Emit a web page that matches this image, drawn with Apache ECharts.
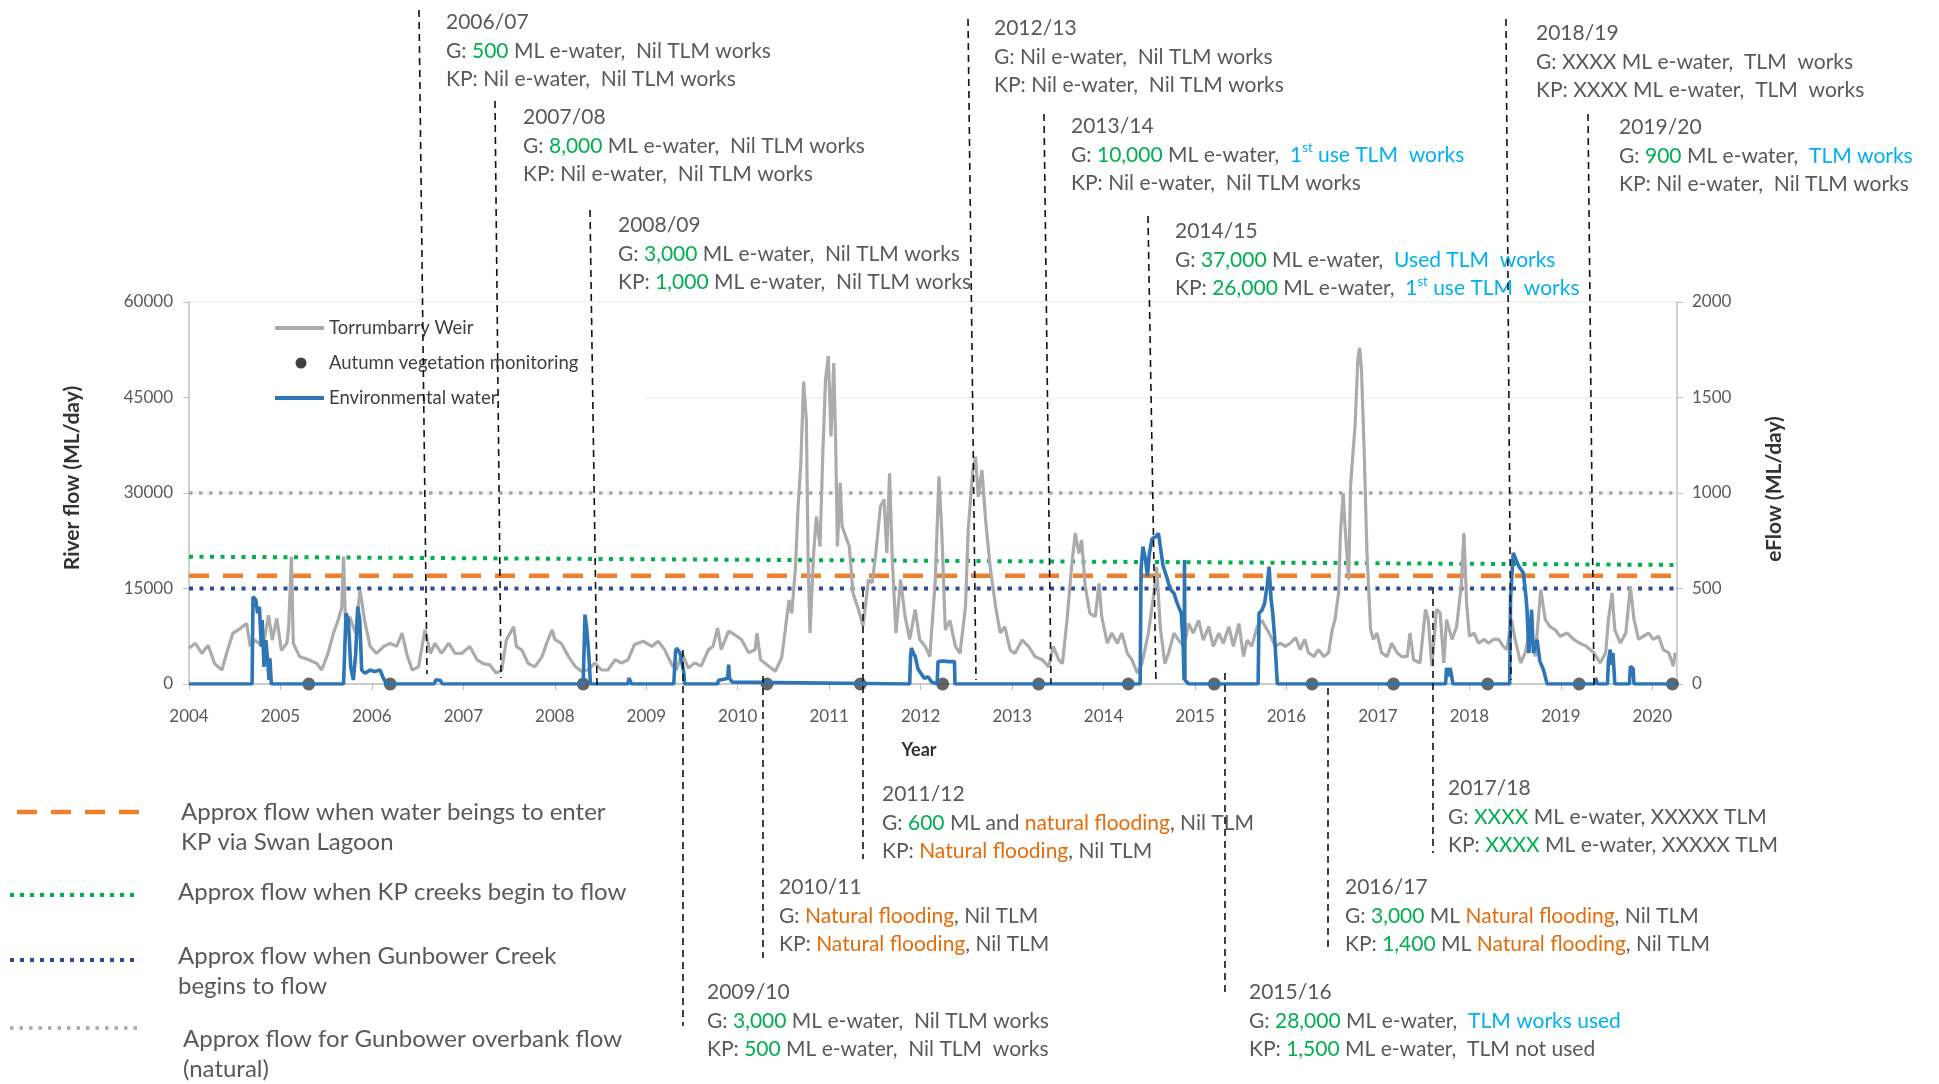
<!DOCTYPE html>
<html>
<head>
<meta charset="utf-8">
<script src="https://cdn.jsdelivr.net/npm/echarts@6/dist/echarts.min.js"></script>
<style>
  html, body { margin: 0; padding: 0; background: #fff; }
  #chart { width: 1939px; height: 1084px; }
</style>
</head>
<body>
<div id="chart"></div>
<script>
// ---- data ----
// Torrumbarry Weir river flow (ML/day), [year, flow]
const weirFlow = [
  [2004.00,5600],[2004.01,5900],[2004.07,6400],[2004.14,4800],[2004.21,6100],[2004.28,3200],[2004.36,2200],[2004.41,4800],[2004.48,8000],[2004.56,8700],[2004.63,9500],[2004.67,5900],[2004.72,6900],[2004.81,5900],[2004.87,10800],[2004.91,6900],[2004.96,10300],
  [2005.01,5300],[2005.07,6400],[2005.09,9000],[2005.12,20000],[2005.14,6400],[2005.21,4300],[2005.31,3800],[2005.40,3200],[2005.45,2200],[2005.52,4800],[2005.58,8000],[2005.63,10000],[2005.67,12000],[2005.69,20000],[2005.71,10000],[2005.76,10500],[2005.82,8000],[2005.87,14800],[2005.92,10000],[2005.98,5900],
  [2006.05,4800],[2006.13,5900],[2006.20,6400],[2006.27,5900],[2006.33,8000],[2006.38,4800],[2006.44,2200],[2006.51,2700],[2006.58,8500],[2006.64,4800],[2006.69,6400],[2006.76,4800],[2006.84,6400],[2006.91,4800],[2006.98,4800],
  [2007.07,5900],[2007.15,3800],[2007.22,3200],[2007.29,3000],[2007.36,1700],[2007.42,2200],[2007.47,6900],[2007.55,9000],[2007.58,5900],[2007.64,5300],[2007.71,3200],[2007.78,2700],[2007.86,4300],[2007.91,6400],[2007.97,8500],
  [2008.00,7000],[2008.07,6400],[2008.15,4300],[2008.22,2800],[2008.29,2000],[2008.36,2200],[2008.44,3300],[2008.51,2200],[2008.58,2200],[2008.66,3800],[2008.73,3300],[2008.80,3800],[2008.87,6200],[2008.97,6700],
  [2009.06,5900],[2009.13,6700],[2009.20,5400],[2009.28,3000],[2009.33,2200],[2009.39,4900],[2009.46,2500],[2009.53,3300],[2009.60,2800],[2009.68,5400],[2009.73,5900],[2009.78,8800],[2009.82,5400],[2009.90,8300],[2009.97,7700],
  [2010.04,7000],[2010.12,4900],[2010.19,5400],[2010.21,8000],[2010.25,3800],[2010.34,2800],[2010.41,2000],[2010.48,4100],[2010.52,8500],[2010.56,13200],[2010.59,11100],[2010.63,18000],[2010.66,27900],[2010.69,34700],[2010.72,47500],[2010.75,41500],[2010.77,19000],[2010.79,8000],[2010.83,20600],[2010.86,26300],[2010.90,21600],[2010.93,36300],[2010.96,47800],[2010.99,51500],
  [2011.02,38900],[2011.05,50400],[2011.07,38400],[2011.09,21600],[2011.12,31600],[2011.14,24800],[2011.18,23200],[2011.22,21600],[2011.26,14300],[2011.32,11700],[2011.37,9100],[2011.43,16400],[2011.47,15900],[2011.51,20600],[2011.56,27900],[2011.60,29000],[2011.63,20600],[2011.66,33100],[2011.69,19500],[2011.73,8000],[2011.78,16400],[2011.83,10600],[2011.88,7000],[2011.94,11700],[2011.99,7000],
  [2012.05,5900],[2012.10,4300],[2012.16,16300],[2012.20,32600],[2012.23,24200],[2012.27,8500],[2012.32,10000],[2012.38,5900],[2012.43,4800],[2012.49,12100],[2012.52,24200],[2012.57,33600],[2012.60,35700],[2012.63,29400],[2012.67,33600],[2012.71,25800],[2012.76,18400],[2012.82,12100],[2012.87,8000],[2012.92,9000],[2012.98,5300],
  [2013.03,4800],[2013.11,6900],[2013.18,5900],[2013.25,4300],[2013.33,3800],[2013.40,2700],[2013.45,5900],[2013.51,3800],[2013.55,3200],[2013.60,10000],[2013.65,18400],[2013.69,23700],[2013.73,20500],[2013.76,22600],[2013.80,15300],[2013.85,11100],[2013.91,10600],[2013.95,15800],[2013.98,10600],
  [2014.04,6400],[2014.09,8000],[2014.15,6400],[2014.20,8000],[2014.26,4800],[2014.31,3800],[2014.37,1700],[2014.42,3200],[2014.49,8000],[2014.55,14200],[2014.58,18400],[2014.62,9000],[2014.67,3200],[2014.71,4800],[2014.77,8000],[2014.82,6900],[2014.88,5900],[2014.93,9500],[2014.98,8000],
  [2015.04,10000],[2015.09,6900],[2015.15,9000],[2015.20,5900],[2015.26,8000],[2015.31,6400],[2015.37,9000],[2015.42,5900],[2015.48,9500],[2015.53,4300],[2015.57,6900],[2015.62,5900],[2015.68,9000],[2015.73,10000],[2015.81,8000],[2015.88,5900],[2015.93,6400],[2015.99,5900],
  [2016.04,6400],[2016.10,7300],[2016.15,5400],[2016.20,7000],[2016.24,4900],[2016.30,4300],[2016.35,5400],[2016.41,4300],[2016.46,4900],[2016.50,8500],[2016.53,10100],[2016.57,14300],[2016.59,23700],[2016.62,30000],[2016.64,24800],[2016.68,16400],[2016.70,31000],[2016.73,36800],[2016.75,40500],[2016.78,50900],[2016.80,52800],[2016.82,49400],[2016.85,36300],[2016.88,20600],[2016.92,8500],[2016.95,7000],[2016.99,8000],
  [2017.04,4900],[2017.10,4300],[2017.15,6400],[2017.21,4900],[2017.26,4300],[2017.32,4300],[2017.35,8000],[2017.39,3800],[2017.46,3300],[2017.52,11700],[2017.55,10100],[2017.59,2800],[2017.64,11700],[2017.68,11200],[2017.72,3300],[2017.75,10100],[2017.81,7000],[2017.86,9000],[2017.91,15300],[2017.94,23700],[2017.97,12700],
  [2018.00,7500],[2018.05,8000],[2018.10,6400],[2018.16,7000],[2018.21,6400],[2018.26,7000],[2018.32,7000],[2018.37,5900],[2018.41,5400],[2018.46,10100],[2018.50,7000],[2018.56,3300],[2018.61,4900],[2018.67,9000],[2018.72,4300],[2018.78,14800],[2018.83,10100],[2018.88,9000],[2018.94,8500],[2018.99,7500],
  [2019.07,8000],[2019.14,7000],[2019.21,6400],[2019.28,5900],[2019.36,4900],[2019.43,3300],[2019.49,4900],[2019.52,10100],[2019.56,14300],[2019.59,8500],[2019.65,6400],[2019.71,8000],[2019.76,15300],[2019.80,10100],[2019.85,7000],[2019.90,7500],[2019.96,8000],
  [2020.01,7000],[2020.07,7500],[2020.12,5400],[2020.18,4900],[2020.23,2800],[2020.25,4900]
];

// Environmental water delivered (eFlow, ML/day, right axis), [year, flow]
const eWater = [
  [2004.00,0],[2004.69,0],[2004.70,457],[2004.73,440],[2004.75,370],[2004.77,405],[2004.79,195],[2004.80,335],[2004.82,90],[2004.84,230],[2004.86,125],[2004.875,21],[2004.885,134],[2004.90,0],
  [2005.69,0],[2005.717,370],[2005.743,335],[2005.768,90],[2005.797,21],[2005.823,160],[2005.845,405],[2005.867,335],[2005.888,73],[2005.925,56],[2005.98,73],[2006.03,65],[2006.09,73],[2006.125,30],[2006.16,3],[2006.19,0],
  [2006.68,0],[2006.70,22],[2006.75,18],[2006.77,0],
  [2008.31,0],[2008.33,363],[2008.35,284],[2008.37,162],[2008.39,0],
  [2008.80,0],[2008.81,31],[2008.83,31],[2008.84,0],
  [2009.30,0],[2009.32,170],[2009.33,188],[2009.37,162],[2009.41,60],[2009.42,0],
  [2009.78,0],[2009.79,20],[2009.85,25],[2009.89,30],[2009.90,101],[2009.91,30],[2009.94,10],[2009.96,0],
  [2011.88,0],[2011.89,150],[2011.90,188],[2011.92,160],[2011.94,145],[2011.97,80],[2012.00,58],[2012.04,30],[2012.08,38],[2012.12,10],[2012.18,0],[2012.19,117],[2012.25,120],[2012.30,117],[2012.37,117],[2012.375,0],
  [2014.40,0],[2014.41,600],[2014.43,719],[2014.46,649],[2014.48,562],[2014.50,680],[2014.53,760],[2014.57,771],[2014.60,789],[2014.62,780],[2014.65,620],[2014.69,560],[2014.71,527],[2014.74,490],[2014.77,475],[2014.80,430],[2014.82,405],[2014.85,370],[2014.87,200],[2014.88,21],[2014.885,649],[2014.89,21],[2014.93,0],
  [2015.69,0],[2015.70,370],[2015.73,385],[2015.76,420],[2015.79,520],[2015.81,614],[2015.83,450],[2015.85,370],[2015.87,248],[2015.90,0],
  [2017.74,0],[2017.75,84],[2017.77,40],[2017.79,84],[2017.81,84],[2017.82,0],
  [2018.44,0],[2018.45,450],[2018.48,686],[2018.51,650],[2018.54,616],[2018.59,581],[2018.62,450],[2018.63,389],[2018.65,162],[2018.68,389],[2018.70,162],[2018.74,232],[2018.77,120],[2018.81,75],[2018.85,0],
  [2019.37,0],[2019.38,31],[2019.40,0],[2019.51,0],[2019.52,120],[2019.54,180],[2019.56,100],[2019.57,162],[2019.59,0],[2019.75,0],[2019.76,92],[2019.79,80],[2019.80,0],[2020.25,0]
];

// Autumn vegetation monitoring dates
const monitoringDates = [2005.31, 2006.20, 2008.31, 2010.32, 2011.34, 2012.24, 2013.29, 2014.27, 2015.21, 2016.28, 2017.17, 2018.20, 2019.20, 2020.22];

// threshold flows (ML/day)
const overbankFlow = [30000, 30000];
const kpCreeksFlow = [20000, 18700];
const swanLagoonFlow = [17000, 17000];
const gunbowerCreekFlow = [15000, 15000];

const yearMin = 2004, yearMax = 2020.27;

// ---- styling ----
const FONT = 'Lato, "Open Sans", sans-serif';
const TXT = '#595959', GREEN = '#00B050', BLUE = '#00B0F0', ORANGE = '#E46C0A';
const C_GREY = '#ABABAB', C_BLUE = '#2E75B6', C_ORANGE = '#F07F2D', C_NAVY = '#2F4A9A', C_DOTGREY = '#A6A6A6';

const chart = echarts.init(document.getElementById('chart'));

function refLine(vals, color, dash, width) {
  return {
    type: 'line', yAxisIndex: 0, symbol: 'none', silent: true,
    data: [[yearMin, vals[0]], [yearMax, vals[1]]],
    lineStyle: { color: color, width: width, type: dash, cap: 'butt' }
  };
}

// annotation text: plain text becomes {t|..}, tokens {g|..} {b|..} {o|..} {s|..}
function rich(lines) {
  return lines.map(function (ln) {
    let out = '', last = 0;
    const re = /\{(\w+)\|([^}]*)\}/g;
    let m;
    while ((m = re.exec(ln)) !== null) {
      if (m.index > last) out += '{t|' + ln.slice(last, m.index) + '}';
      out += m[0];
      last = re.lastIndex;
    }
    if (last < ln.length) out += '{t|' + ln.slice(last) + '}';
    return out;
  }).join('\n');
}

const NOTE_FS = 21, NOTE_LH = 28.5;
const richStyles = {
  t: { fill: TXT, fontSize: NOTE_FS, fontFamily: FONT, lineHeight: NOTE_LH },
  g: { fill: GREEN, fontSize: NOTE_FS, fontFamily: FONT, lineHeight: NOTE_LH },
  b: { fill: BLUE, fontSize: NOTE_FS, fontFamily: FONT, lineHeight: NOTE_LH },
  o: { fill: ORANGE, fontSize: NOTE_FS, fontFamily: FONT, lineHeight: NOTE_LH },
  s: { fill: BLUE, fontSize: 13, fontFamily: FONT, lineHeight: NOTE_LH, verticalAlign: 'top', padding: [1, 0, 0, 0] }
};

// season notes with layout (pixels)
const notes = [
  { x: 446, y: 8, line: [419, 10, 427, 674], text: ['2006/07', 'G: {g|500} ML e-water,  Nil TLM works', 'KP: Nil e-water,  Nil TLM works'] },
  { x: 523, y: 103, line: [495, 101, 501, 678], text: ['2007/08', 'G: {g|8,000} ML e-water,  Nil TLM works', 'KP: Nil e-water,  Nil TLM works'] },
  { x: 618, y: 211, line: [590, 210, 597, 686], text: ['2008/09', 'G: {g|3,000} ML e-water,  Nil TLM works', 'KP: {g|1,000} ML e-water,  Nil TLM works'] },
  { x: 994, y: 14, line: [968, 19, 976, 680], text: ['2012/13', 'G: Nil e-water,  Nil TLM works', 'KP: Nil e-water,  Nil TLM works'] },
  { x: 1071, y: 112, line: [1044, 114, 1051, 684], text: ['2013/14', 'G: {g|10,000} ML e-water,  {b|1}{s|st}{b| use TLM  works}', 'KP: Nil e-water,  Nil TLM works'] },
  { x: 1175, y: 217, line: [1148, 216, 1156, 684], text: ['2014/15', 'G: {g|37,000} ML e-water,  {b|Used TLM  works}', 'KP: {g|26,000} ML e-water,  {b|1}{s|st}{b| use TLM  works}'] },
  { x: 1536, y: 19, line: [1506, 19, 1511, 680], text: ['2018/19', 'G: XXXX ML e-water,  TLM  works', 'KP: XXXX ML e-water,  TLM  works'] },
  { x: 1619, y: 113, line: [1588, 114, 1594, 686], text: ['2019/20', 'G: {g|900} ML e-water,  {b|TLM works}', 'KP: Nil e-water,  Nil TLM works'] },
  { x: 707, y: 978, line: [683, 650, 683, 1026], text: ['2009/10', 'G: {g|3,000} ML e-water,  Nil TLM works', 'KP: {g|500} ML e-water,  Nil TLM  works'] },
  { x: 779, y: 873, line: [763, 676, 763, 958], text: ['2010/11', 'G: {o|Natural flooding}, Nil TLM', 'KP: {o|Natural flooding}, Nil TLM'] },
  { x: 882, y: 780, line: [863, 590, 863, 859], text: ['2011/12', 'G: {g|600} ML and {o|natural flooding}, Nil TLM', 'KP: {o|Natural flooding}, Nil TLM'] },
  { x: 1249, y: 978, line: [1225, 673, 1225, 995], text: ['2015/16', 'G: {g|28,000} ML e-water,  {b|TLM works used}', 'KP: {g|1,500} ML e-water,  TLM not used'] },
  { x: 1345, y: 873, line: [1328, 688, 1328, 952], text: ['2016/17', 'G: {g|3,000} ML {o|Natural flooding}, Nil TLM', 'KP: {g|1,400} ML {o|Natural flooding}, Nil TLM'] },
  { x: 1448, y: 774, line: [1433, 587, 1433, 853], text: ['2017/18', 'G: {g|XXXX} ML e-water, XXXXX TLM', 'KP: {g|XXXX} ML e-water, XXXXX TLM'] }
];

const graphics = [];
// white box behind in-plot legend
graphics.push({ type: 'rect', z: 1, silent: true, shape: { x: 191, y: 306, width: 455, height: 108 }, style: { fill: '#fff' } });
// in-plot legend
const LEG_FS = 18.5;
graphics.push({ type: 'line', z: 5, shape: { x1: 275, y1: 328, x2: 324, y2: 328 }, style: { stroke: C_GREY, lineWidth: 4 } });
graphics.push({ type: 'text', z: 5, x: 329, y: 328, style: { text: 'Torrumbarry Weir', fill: '#404040', fontSize: LEG_FS, fontFamily: FONT, verticalAlign: 'middle' } });
graphics.push({ type: 'circle', z: 5, shape: { cx: 301, cy: 363, r: 5.5 }, style: { fill: '#404040' } });
graphics.push({ type: 'text', z: 5, x: 329, y: 363, style: { text: 'Autumn vegetation monitoring', fill: '#404040', fontSize: LEG_FS, fontFamily: FONT, verticalAlign: 'middle' } });
graphics.push({ type: 'line', z: 5, shape: { x1: 275, y1: 398, x2: 324, y2: 398 }, style: { stroke: C_BLUE, lineWidth: 4 } });
graphics.push({ type: 'text', z: 5, x: 329, y: 398, style: { text: 'Environmental water', fill: '#404040', fontSize: LEG_FS, fontFamily: FONT, verticalAlign: 'middle' } });

// notes
notes.forEach(function (n) {
  graphics.push({ type: 'line', z: 10, silent: true, shape: { x1: n.line[0], y1: n.line[1], x2: n.line[2], y2: n.line[3] }, style: { stroke: '#111', lineWidth: 1.6, lineDash: [7, 5] } });
  graphics.push({ type: 'text', z: 10, x: n.x, y: n.y, style: { text: rich(n.text), rich: richStyles, fill: TXT, fontSize: NOTE_FS, fontFamily: FONT, lineHeight: NOTE_LH, verticalAlign: 'top' } });
});

// threshold key (bottom left)
const KEY_FS = 24, KEY_LH = 30;
const keyItems = [
  { y: 812, x1: 17, color: C_ORANGE, dash: [20, 14], w: 4.5, tx: 181, ty: 797, text: 'Approx flow when water beings to enter\nKP via Swan Lagoon' },
  { y: 895, x1: 10, color: GREEN, dash: [4, 6], w: 4, tx: 178, ty: 877, text: 'Approx flow when KP creeks begin to flow' },
  { y: 960, x1: 10, color: C_NAVY, dash: [4, 6], w: 4, tx: 178, ty: 941, text: 'Approx flow when Gunbower Creek\nbegins to flow' },
  { y: 1028, x1: 10, color: C_DOTGREY, dash: [3.5, 6], w: 3.5, tx: 183, ty: 1024, text: 'Approx flow for Gunbower overbank flow\n(natural)' }
];
keyItems.forEach(function (k) {
  graphics.push({ type: 'line', shape: { x1: k.x1, y1: k.y, x2: 139, y2: k.y }, style: { stroke: k.color, lineWidth: k.w, lineDash: k.dash } });
  graphics.push({ type: 'text', x: k.tx, y: k.ty, style: { text: k.text, fill: TXT, fontSize: KEY_FS, fontFamily: FONT, lineHeight: KEY_LH, verticalAlign: 'top' } });
});

chart.setOption({
  animation: false,
  backgroundColor: '#fff',
  textStyle: { fontFamily: FONT },
  grid: { left: 189, right: 262, top: 302, bottom: 400, containLabel: false, outerBoundsMode: 'none' },
  xAxis: {
    type: 'value', min: yearMin, max: yearMax, interval: 1,
    name: 'Year', nameLocation: 'middle', nameGap: 57,
    nameTextStyle: { fontWeight: 'bold', fontSize: 18, color: '#333', fontFamily: FONT, padding: [0, 28, 0, 0] },
    axisLine: { lineStyle: { color: '#BFBFBF', width: 1.5 } },
    axisTick: { show: true, length: 6, lineStyle: { color: '#BFBFBF' } },
    axisLabel: { color: TXT, fontSize: 17, margin: 24, showMaxLabel: false,
      formatter: function (v) { return Number.isInteger(v) ? String(v) : ''; } },
    splitLine: { show: false }
  },
  yAxis: [
    {
      type: 'value', min: 0, max: 60000, interval: 15000, position: 'left',
      name: 'River flow (ML/day)', nameLocation: 'middle', nameGap: 106, nameRotate: 90,
      nameTextStyle: { fontWeight: 'bold', fontSize: 21, color: '#333', fontFamily: FONT, padding: [0, 0, 0, 30] },
      axisLine: { show: true, lineStyle: { color: '#BFBFBF', width: 1.5 } },
      axisTick: { show: true, length: 6, lineStyle: { color: '#BFBFBF' } },
      axisLabel: { color: TXT, fontSize: 17, margin: 16, formatter: function (v) { return String(v); } },
      splitLine: { show: true, lineStyle: { color: '#F0F0F0', width: 1.5 } }
    },
    {
      type: 'value', min: 0, max: 2000, interval: 500, position: 'right',
      name: 'eFlow (ML/day)', nameLocation: 'middle', nameGap: 87, nameRotate: 90,
      nameTextStyle: { fontWeight: 'bold', fontSize: 21, color: '#333', fontFamily: FONT, padding: [0, 0, 0, 8] },
      axisLine: { show: true, lineStyle: { color: '#BFBFBF', width: 1.5 } },
      axisTick: { show: true, length: 6, lineStyle: { color: '#BFBFBF' } },
      axisLabel: { color: TXT, fontSize: 17, margin: 15, formatter: function (v) { return String(v); } },
      splitLine: { show: false }
    }
  ],
  series: [
    refLine(overbankFlow, C_DOTGREY, [3.5, 6.5], 3.5),
    refLine(kpCreeksFlow, GREEN, [4, 6.5], 4),
    refLine(swanLagoonFlow, C_ORANGE, [20, 14], 4.5),
    refLine(gunbowerCreekFlow, C_NAVY, [4, 6.5], 4),
    {
      name: 'Torrumbarry Weir', type: 'line', yAxisIndex: 0, symbol: 'none',
      data: weirFlow, lineStyle: { color: C_GREY, width: 3.2 }
    },
    {
      name: 'Environmental water', type: 'line', yAxisIndex: 1, symbol: 'none',
      data: eWater, lineStyle: { color: C_BLUE, width: 3.6 }
    },
    {
      name: 'Autumn vegetation monitoring', type: 'scatter', yAxisIndex: 0,
      data: monitoringDates.map(function (d) { return [d, 0]; }),
      symbolSize: 13, itemStyle: { color: '#404040' }
    }
  ],
  graphic: graphics
});
</script>
</body>
</html>
